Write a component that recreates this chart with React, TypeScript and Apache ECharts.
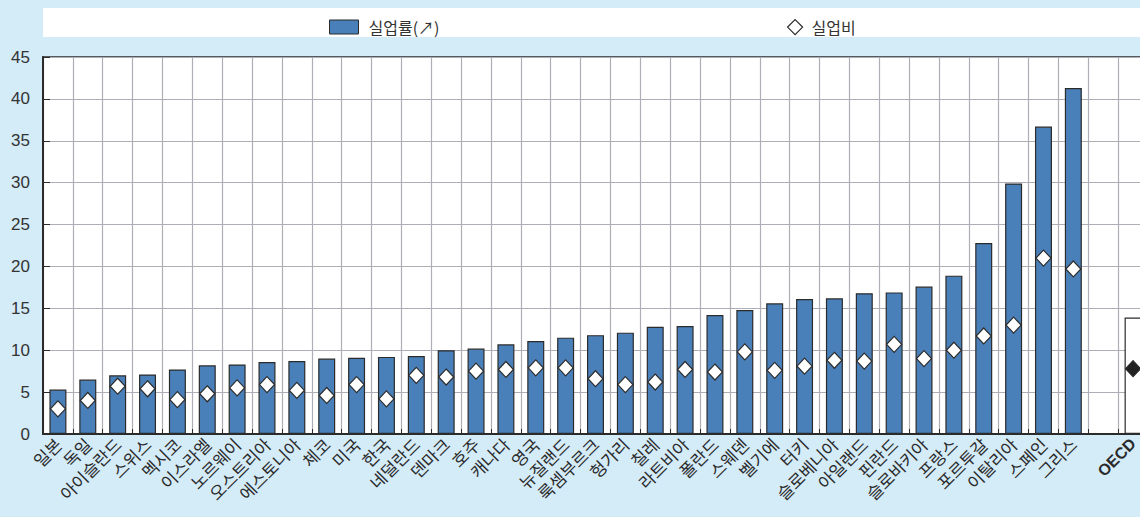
import React, { useEffect, useRef } from "react";
import * as echarts from "echarts";

const countries = [
  "일본", "독일", "아이슬란드", "스위스", "멕시코", "이스라엘", "노르웨이", "오스트리아",
  "에스토니아", "체코", "미국", "한국", "네덜란드", "덴마크", "호주", "캐나다", "영국",
  "뉴질랜드", "룩셈부르크", "헝가리", "칠레", "라트비아", "폴란드", "스웨덴", "벨기에",
  "터키", "슬로베니아", "아일랜드", "핀란드", "슬로바키아", "프랑스", "포르투갈",
  "이탈리아", "스페인", "그리스",
];
const unemploymentRate = [
  5.3, 6.5, 7.0, 7.1, 7.7, 8.2, 8.3, 8.6, 8.7, 9.0, 9.1, 9.2, 9.3, 10.0, 10.2, 10.7, 11.1,
  11.5, 11.8, 12.1, 12.8, 12.9, 14.2, 14.8, 15.6, 16.1, 16.2, 16.8, 16.9, 17.6, 18.9, 22.8,
  29.9, 36.7, 41.3,
];
const unemploymentRatio = [
  3.0, 4.0, 5.7, 5.4, 4.1, 4.8, 5.5, 5.9, 5.2, 4.6, 5.9, 4.2, 7.0, 6.8, 7.5, 7.7, 7.9,
  7.9, 6.6, 5.9, 6.2, 7.7, 7.4, 9.8, 7.6, 8.1, 8.8, 8.7, 10.7, 9.0, 10.0, 11.7, 13.0,
  21.0, 19.7,
];
const oecdLabel = "OECD";
const oecdRate = 13.9;
const oecdRatio = 7.8;
const yTicks = { min: 0, max: 45, interval: 5 };
const seriesNames = ["실업률(↗)", "실업비"];

const CHART_W = 1148;
const CHART_H = 517;

export default function App() {
  const ref = useRef<HTMLDivElement>(null);
  useEffect(() => {
    document.body.style.margin = "0";
    document.documentElement.style.overflow = "hidden";
    document.body.style.overflow = "hidden";
    const chart = echarts.init(ref.current!, null, { renderer: "svg" });
    const dark = "#2b2b2b";
    const grey = "#aeaeb6";
    const blue = "#4a80b9";
    const cjk = "'Noto Sans CJK KR', 'Noto Sans', sans-serif";
    const num = "'Liberation Sans Narrow', 'Liberation Sans', Arial, sans-serif";

    const xData: any[] = [
      ...countries,
      "",
      { value: oecdLabel, textStyle: { fontWeight: "bold", fontFamily: "'Liberation Sans', Arial, sans-serif", fontSize: 16 } },
    ];
    const barData: any[] = [
      ...unemploymentRate,
      null,
      { value: oecdRate, itemStyle: { color: "#ffffff" } },
    ];
    const dotData: any[] = [
      ...unemploymentRatio,
      null,
      { value: oecdRatio, itemStyle: { color: "#222222" } },
    ];

    chart.setOption({
      animation: false,
      backgroundColor: "#d4ebf8",
      graphic: [
        {
          type: "rect",
          z: 0,
          shape: { x: 43, y: 8, width: 1110, height: 29 },
          style: { fill: "#ffffff" },
          silent: true,
        },
      ],
      legend: [
        {
          data: [seriesNames[0]],
          left: 324,
          top: 14,
          z: 10,
          icon: "rect",
          itemWidth: 29,
          itemHeight: 14,
          textStyle: { fontFamily: cjk, fontSize: 16, color: "#333", padding: [0, 0, 0, 5] },
          itemStyle: { borderColor: dark, borderWidth: 1 },
        },
        {
          data: [seriesNames[1]],
          left: 782,
          top: 14,
          z: 10,
          icon: "diamond",
          itemWidth: 15,
          itemHeight: 15,
          textStyle: { fontFamily: cjk, fontSize: 16, color: "#333", padding: [0, 0, 0, 4] },
          itemStyle: { borderColor: dark, borderWidth: 1.2, color: "#ffffff" },
        },
      ],
      grid: {
        left: 43,
        right: 0,
        top: 57,
        bottom: 83,
        show: true,
        backgroundColor: "#ffffff",
        borderColor: dark,
        borderWidth: 1.5,
      },
      xAxis: {
        type: "category",
        data: xData,
        boundaryGap: true,
        axisLine: { lineStyle: { color: dark, width: 2 } },
        axisTick: { show: true, inside: true, length: 5, interval: 0, lineStyle: { color: dark } },
        splitLine: { show: true, interval: 0, lineStyle: { color: grey, width: 1.2 } },
        axisLabel: {
          interval: 0,
          rotate: 45,
          margin: 7,
          fontFamily: cjk,
          fontSize: 17,
          color: "#2a2a2a",
        },
      },
      yAxis: {
        type: "value",
        min: yTicks.min,
        max: yTicks.max,
        interval: yTicks.interval,
        axisLine: { show: true, lineStyle: { color: dark, width: 2 } },
        axisTick: { show: true, inside: true, length: 7, lineStyle: { color: dark } },
        splitLine: { show: true, lineStyle: { color: grey, width: 1.2 } },
        axisLabel: { fontFamily: num, fontSize: 17, color: "#333", margin: 13 },
      },
      series: [
        {
          name: seriesNames[0],
          type: "bar",
          data: barData,
          barWidth: 17,
          itemStyle: { color: blue, borderColor: dark, borderWidth: 1.2 },
          z: 2,
        },
        {
          name: seriesNames[1],
          type: "scatter",
          data: dotData,
          symbol: "diamond",
          symbolSize: [15, 16],
          itemStyle: { color: "#ffffff", borderColor: dark, borderWidth: 1.2, opacity: 1 },
          z: 3,
        },
      ],
    });
    return () => chart.dispose();
  }, []);
  return (
    <div
      ref={ref}
      style={{ position: "fixed", left: 0, top: 0, width: CHART_W, height: CHART_H }}
    />
  );
}
